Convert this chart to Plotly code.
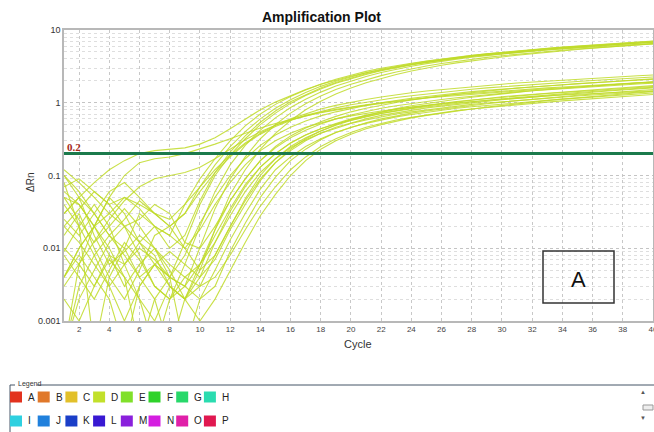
import plotly.graph_objects as go

# ---------------- data ----------------
CYCLES = list(range(1, 41))
THRESHOLD = 0.2

# Delta Rn per cycle (cycles 1..40) for the high-plateau wells
U1 = [0.03,0.05,0.08,0.12,0.16,0.2,0.22,0.23,0.24,0.27,0.33,0.44,0.6,0.8,1.02,1.26,1.52,1.8,2.06,2.32,2.58,2.84,3.1,3.35,3.6,3.85,4.1,4.32,4.52,4.72,4.92,5.12,5.32,5.5,5.68,5.85,6.02,6.2,6.36,6.5]
U2 = [0.08,0.02,0.0004,0.004,0.01,0.03,0.02,0.015,0.04,0.09,0.17,0.3,0.48,0.7,0.95,1.22,1.5,1.8,2.1,2.4,2.7,2.98,3.25,3.5,3.75,4.0,4.25,4.48,4.7,4.92,5.12,5.32,5.52,5.72,5.9,6.08,6.25,6.42,6.6,6.78]
U3 = [0.01,0.006,0.02,0.05,0.03,0.012,0.006,0.004,0.012,0.04,0.1,0.19,0.32,0.5,0.72,0.98,1.26,1.55,1.85,2.15,2.45,2.75,3.03,3.3,3.57,3.84,4.1,4.35,4.58,4.8,5.02,5.24,5.45,5.65,5.85,6.05,6.25,6.45,6.65,6.85]
U4 = [0.0004,0.002,0.005,0.012,0.02,0.008,0.003,0.002,0.006,0.02,0.06,0.14,0.26,0.42,0.62,0.86,1.12,1.4,1.7,2.0,2.3,2.6,2.9,3.18,3.45,3.72,3.98,4.22,4.46,4.7,4.92,5.14,5.36,5.58,5.8,6.0,6.2,6.4,6.6,6.8]
U5 = [0.05,0.04,0.02,0.01,0.004,0.0004,0.002,0.004,0.003,0.01,0.035,0.09,0.18,0.32,0.5,0.72,0.97,1.24,1.52,1.8,2.08,2.36,2.64,2.92,3.2,3.46,3.72,3.97,4.2,4.43,4.65,4.87,5.08,5.28,5.48,5.68,5.87,6.06,6.25,6.45]
U6 = [0.1,0.06,0.03,0.015,0.025,0.045,0.03,0.02,0.03,0.07,0.14,0.25,0.4,0.6,0.84,1.1,1.38,1.68,1.98,2.28,2.58,2.88,3.16,3.43,3.7,3.96,4.22,4.47,4.7,4.94,5.17,5.4,5.62,5.84,6.05,6.26,6.46,6.66,6.86,7.05]
U7 = [0.004,0.01,0.02,0.008,0.003,0.006,0.01,0.005,0.002,0.005,0.018,0.055,0.12,0.23,0.38,0.57,0.8,1.05,1.32,1.6,1.88,2.16,2.45,2.73,3.0,3.27,3.53,3.78,4.02,4.26,4.5,4.73,4.96,5.18,5.4,5.62,5.84,6.05,6.26,6.48]
U8 = [0.02,0.035,0.06,0.04,0.02,0.012,0.02,0.01,0.015,0.045,0.11,0.21,0.35,0.54,0.77,1.03,1.3,1.6,1.9,2.2,2.5,2.8,3.08,3.36,3.63,3.9,4.16,4.4,4.64,4.88,5.1,5.33,5.55,5.77,5.98,6.2,6.4,6.6,6.8,7.0]

# Delta Rn per cycle (cycles 1..40) for the low-plateau wells
L1 = [0.06,0.04,0.02,0.03,0.05,0.04,0.03,0.02,0.03,0.06,0.11,0.18,0.27,0.37,0.47,0.57,0.67,0.76,0.85,0.94,1.02,1.1,1.18,1.25,1.32,1.39,1.46,1.53,1.6,1.66,1.72,1.78,1.84,1.9,1.96,2.02,2.08,2.14,2.2,2.26]
L2 = [0.1,0.05,0.015,0.006,0.009,0.015,0.01,0.004,0.008,0.022,0.05,0.1,0.17,0.26,0.36,0.46,0.56,0.66,0.75,0.84,0.92,1.0,1.08,1.15,1.22,1.29,1.36,1.42,1.48,1.54,1.6,1.66,1.72,1.77,1.83,1.88,1.94,1.99,2.04,2.1]
L3 = [0.02,0.012,0.006,0.003,0.006,0.012,0.008,0.003,0.002,0.006,0.018,0.045,0.09,0.16,0.24,0.33,0.42,0.51,0.6,0.68,0.76,0.84,0.91,0.98,1.05,1.11,1.17,1.23,1.29,1.35,1.41,1.46,1.51,1.56,1.61,1.66,1.71,1.76,1.81,1.86]
L4 = [0.0004,0.003,0.008,0.015,0.01,0.004,0.002,0.0004,0.002,0.004,0.012,0.032,0.07,0.13,0.2,0.28,0.36,0.44,0.52,0.6,0.67,0.74,0.81,0.87,0.93,0.99,1.04,1.09,1.14,1.19,1.24,1.29,1.34,1.38,1.42,1.47,1.52,1.57,1.62,1.67]
L5 = [0.05,0.025,0.012,0.02,0.035,0.02,0.01,0.006,0.004,0.006,0.012,0.028,0.06,0.11,0.17,0.24,0.31,0.38,0.45,0.52,0.58,0.64,0.7,0.75,0.8,0.85,0.9,0.95,0.99,1.03,1.08,1.12,1.16,1.2,1.24,1.28,1.32,1.36,1.4,1.44]
L6 = [0.004,0.008,0.004,0.002,0.0004,0.003,0.006,0.003,0.002,0.003,0.008,0.02,0.045,0.09,0.15,0.22,0.3,0.38,0.46,0.53,0.6,0.67,0.73,0.79,0.85,0.9,0.95,1.0,1.05,1.1,1.15,1.2,1.25,1.3,1.35,1.4,1.45,1.5,1.55,1.6]
L7 = [0.03,0.05,0.03,0.015,0.008,0.004,0.006,0.004,0.0004,0.002,0.005,0.013,0.03,0.065,0.12,0.18,0.25,0.32,0.39,0.46,0.52,0.58,0.64,0.69,0.74,0.79,0.84,0.88,0.92,0.96,1.0,1.04,1.08,1.12,1.16,1.2,1.24,1.28,1.32,1.36]
L8 = [0.008,0.004,0.002,0.005,0.012,0.007,0.003,0.002,0.004,0.003,0.004,0.008,0.018,0.038,0.07,0.12,0.18,0.25,0.32,0.39,0.46,0.52,0.58,0.63,0.68,0.73,0.78,0.82,0.86,0.9,0.94,0.98,1.02,1.06,1.1,1.14,1.18,1.22,1.26,1.3]
L9 = [0.004,0.01,0.02,0.05,0.1,0.15,0.17,0.18,0.2,0.23,0.27,0.32,0.38,0.45,0.52,0.59,0.66,0.73,0.8,0.86,0.92,0.98,1.04,1.1,1.16,1.21,1.26,1.31,1.36,1.41,1.46,1.51,1.56,1.61,1.66,1.71,1.76,1.81,1.86,1.92]
L10 = [0.12,0.08,0.05,0.03,0.02,0.025,0.04,0.03,0.012,0.01,0.02,0.045,0.09,0.16,0.25,0.35,0.45,0.55,0.65,0.75,0.84,0.93,1.01,1.09,1.17,1.24,1.31,1.38,1.45,1.52,1.59,1.65,1.71,1.77,1.83,1.89,1.95,2.01,2.07,2.13]
L11 = [0.015,0.03,0.01,0.004,0.002,0.005,0.015,0.02,0.01,0.005,0.008,0.02,0.048,0.1,0.17,0.25,0.33,0.41,0.49,0.57,0.64,0.71,0.78,0.85,0.91,0.97,1.03,1.09,1.15,1.21,1.26,1.31,1.36,1.41,1.46,1.51,1.56,1.61,1.66,1.72]
L12 = [0.07,0.09,0.06,0.04,0.05,0.035,0.02,0.015,0.01,0.018,0.04,0.08,0.14,0.22,0.3,0.38,0.46,0.53,0.6,0.66,0.72,0.77,0.82,0.87,0.92,0.96,1.0,1.04,1.08,1.12,1.16,1.2,1.24,1.28,1.31,1.34,1.37,1.4,1.43,1.46]
L13 = [0.002,0.001,0.003,0.007,0.004,0.002,0.0004,0.002,0.003,0.002,0.003,0.009,0.022,0.05,0.095,0.16,0.23,0.31,0.39,0.46,0.53,0.6,0.66,0.72,0.77,0.82,0.87,0.92,0.97,1.02,1.07,1.12,1.17,1.22,1.27,1.32,1.37,1.42,1.47,1.52]
L14 = [0.025,0.015,0.03,0.06,0.08,0.05,0.03,0.025,0.04,0.07,0.12,0.19,0.28,0.38,0.49,0.6,0.71,0.82,0.92,1.02,1.11,1.2,1.29,1.37,1.45,1.52,1.59,1.66,1.73,1.8,1.87,1.93,1.99,2.05,2.11,2.17,2.23,2.29,2.35,2.41]
L15 = [0.0004,0.006,0.003,0.008,0.006,0.01,0.007,0.004,0.003,0.006,0.015,0.035,0.075,0.13,0.2,0.28,0.36,0.44,0.51,0.58,0.65,0.71,0.77,0.83,0.88,0.93,0.98,1.03,1.08,1.13,1.18,1.23,1.28,1.33,1.38,1.43,1.48,1.53,1.58,1.63]
L16 = [0.04,0.02,0.008,0.003,0.001,0.003,0.006,0.009,0.006,0.004,0.007,0.018,0.04,0.085,0.15,0.23,0.32,0.41,0.5,0.59,0.67,0.75,0.83,0.91,0.98,1.05,1.12,1.19,1.26,1.33,1.4,1.46,1.52,1.58,1.64,1.7,1.76,1.82,1.88,1.94]
L17 = [0.009,0.02,0.04,0.02,0.006,0.002,0.001,0.003,0.002,0.001,0.002,0.005,0.012,0.028,0.055,0.1,0.16,0.23,0.3,0.37,0.44,0.5,0.56,0.62,0.67,0.72,0.77,0.82,0.87,0.92,0.97,1.02,1.07,1.12,1.17,1.22,1.27,1.32,1.37,1.42]
L18 = [0.003,0.006,0.012,0.025,0.045,0.07,0.09,0.1,0.11,0.13,0.17,0.23,0.31,0.4,0.49,0.58,0.66,0.74,0.81,0.88,0.94,1.0,1.06,1.12,1.18,1.24,1.3,1.35,1.4,1.45,1.5,1.55,1.6,1.65,1.7,1.75,1.8,1.85,1.88,1.92]

WELLS = [U1, U2, U3, U4, U5, U6, U7, U8,
         L1, L2, L3, L4, L5, L6, L7, L8, L9, L10, L11, L12, L13, L14, L15, L16, L17, L18]

X_TICKS = list(range(2, 41, 2))
Y_TICKS = [0.001, 0.01, 0.1, 1, 10]
Y_TICK_TEXT = ["0.001", "0.01", "0.1", "1", "10"]
Y_MINOR = [m * d for d in (0.001, 0.01, 0.1, 1) for m in range(2, 10)]

LEGEND_NAMES = list("ABCDEFGHIJKLMNOP")
LEGEND_COLORS = ["#e2321e", "#e0782a", "#e2c02a", "#c2e02a", "#80e02a", "#2ed22a", "#28d86a", "#2adcb0",
                 "#2ed0e0", "#2080dc", "#1a3ec8", "#3818d2", "#8a20dc", "#d41ee0", "#e020a8", "#e01850"]

CURVE_COLOR = "rgba(192,218,40,0.85)"
FONT = "Liberation Sans, Arial, sans-serif"

# ---------------- geometry helpers (pixel -> paper) ----------------
W, H = 654, 432
PL, PT, PW, PH = 64, 30, 589, 291


def px(x):
    return (x - PL) / PW


def py(y):
    return 1 - (y - PT) / PH


fig = go.Figure()

for vals in WELLS:
    fig.add_trace(go.Scatter(x=CYCLES, y=vals, mode="lines",
                             line=dict(color=CURVE_COLOR, width=1.1),
                             hoverinfo="skip", showlegend=False))

fig.add_trace(go.Scatter(x=[CYCLES[0], CYCLES[-1]], y=[THRESHOLD, THRESHOLD], mode="lines",
                         line=dict(color="#1b7a4c", width=3), showlegend=False, hoverinfo="skip"))

shapes = []
annotations = []

# threshold label
annotations.append(dict(x=px(65), y=py(147), xref="paper", yref="paper", text="<b>0.2</b>",
                        showarrow=False, xanchor="left", yanchor="middle",
                        font=dict(family="Liberation Serif, serif", size=11, color="#a52a20")))

# title and axis titles
annotations.append(dict(x=px(321), y=py(17), xref="paper", yref="paper", text="<b>Amplification Plot</b>",
                        showarrow=False, xanchor="center", yanchor="middle",
                        font=dict(family=FONT, size=14, color="#111111")))
annotations.append(dict(x=px(30), y=py(183), xref="paper", yref="paper", text="ΔRn",
                        showarrow=False, textangle=-90, xanchor="center", yanchor="middle",
                        font=dict(family=FONT, size=10, color="#333333")))
annotations.append(dict(x=px(358), y=py(344), xref="paper", yref="paper", text="Cycle",
                        showarrow=False, xanchor="center", yanchor="middle",
                        font=dict(family=FONT, size=11, color="#333333")))

# boxed panel letter
shapes.append(dict(type="rect", xref="paper", yref="paper", x0=px(543), x1=px(614), y0=py(303), y1=py(251),
                   line=dict(color="#333333", width=1.5), fillcolor="rgba(0,0,0,0)"))
annotations.append(dict(x=px(578), y=py(279), xref="paper", yref="paper", text="A",
                        showarrow=False, xanchor="center", yanchor="middle",
                        font=dict(family=FONT, size=22, color="#111111")))

# legend panel frame
shapes.append(dict(type="line", xref="paper", yref="paper", x0=px(10), x1=px(15), y0=py(385), y1=py(385),
                   line=dict(color="#445566", width=1)))
shapes.append(dict(type="line", xref="paper", yref="paper", x0=px(37), x1=px(654), y0=py(385), y1=py(385),
                   line=dict(color="#445566", width=1)))
shapes.append(dict(type="line", xref="paper", yref="paper", x0=px(10), x1=px(10), y0=py(385), y1=py(432),
                   line=dict(color="#445566", width=1)))
annotations.append(dict(x=px(16), y=py(384), xref="paper", yref="paper", text="Legend",
                        showarrow=False, xanchor="left", yanchor="middle",
                        font=dict(family=FONT, size=7, color="#333333")))

for i, (name, col) in enumerate(zip(LEGEND_NAMES, LEGEND_COLORS)):
    row, colidx = divmod(i, 8)
    x0 = 10 + colidx * 27.7
    yc = 397 + row * 24
    shapes.append(dict(type="rect", xref="paper", yref="paper", x0=px(x0), x1=px(x0 + 12),
                       y0=py(yc + 5.5), y1=py(yc - 5.5), line=dict(width=0), fillcolor=col))
    annotations.append(dict(x=px(x0 + 16), y=py(yc), xref="paper", yref="paper", text=name,
                            showarrow=False, xanchor="left", yanchor="middle",
                            font=dict(family=FONT, size=10, color="#222222")))

# scrollbar
shapes.append(dict(type="rect", xref="paper", yref="paper", x0=px(643), x1=px(653), y0=py(410), y1=py(405),
                   line=dict(color="#999999", width=1), fillcolor="#eeeeee"))
annotations.append(dict(x=px(648), y=py(397), xref="paper", yref="paper", text="▲", showarrow=False,
                        font=dict(family=FONT, size=6, color="#555555")))
annotations.append(dict(x=px(648), y=py(423), xref="paper", yref="paper", text="▼", showarrow=False,
                        font=dict(family=FONT, size=6, color="#555555")))

fig.update_layout(
    width=W, height=H,
    margin=dict(l=PL, r=W - PL - PW, t=PT, b=H - PT - PH, pad=0, autoexpand=False),
    paper_bgcolor="white", plot_bgcolor="white",
    shapes=shapes, annotations=annotations,
    showlegend=False,
    xaxis=dict(range=[1, 40], tickmode="array", tickvals=X_TICKS, ticks="",
               ticklabeloverflow="allow", automargin=False,
               tickfont=dict(family=FONT, size=8, color="#444444"),
               showgrid=True, gridcolor="#c8c8c8", griddash="dot", gridwidth=1,
               showline=True, linecolor="#b8b8b8", linewidth=1.5, mirror=True, zeroline=False),
    yaxis=dict(type="log", range=[-3, 1], tickmode="array", tickvals=Y_TICKS, ticktext=Y_TICK_TEXT,
               automargin=False,
               ticks="", tickfont=dict(family=FONT, size=9, color="#333333"),
               showgrid=True, gridcolor="#c4c4c4", griddash="dot", gridwidth=1,
               minor=dict(tickmode="array", tickvals=Y_MINOR, showgrid=True,
                          gridcolor="#dedede", griddash="dot", ticks=""),
               showline=True, linecolor="#b8b8b8", linewidth=1.5, mirror=True, zeroline=False),
)

fig.write_html("out.html")
